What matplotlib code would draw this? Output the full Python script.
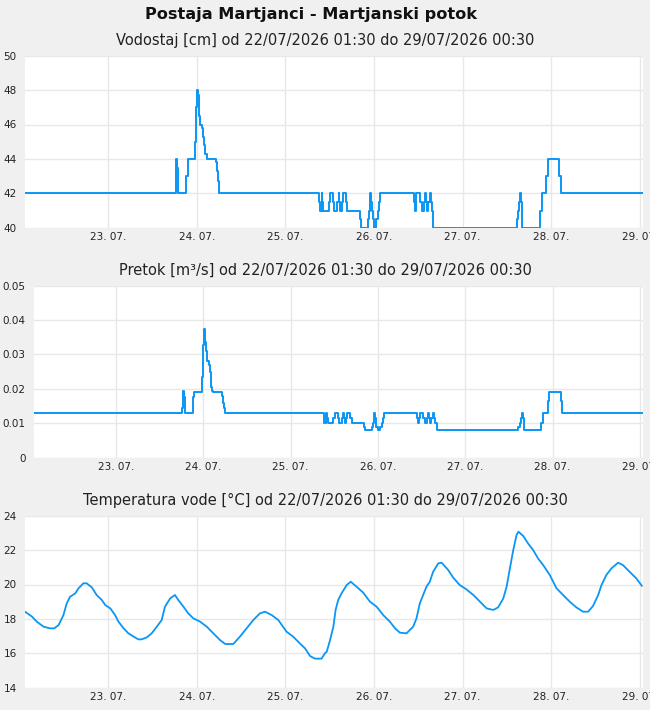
import numpy as np
import pandas as pd
import matplotlib
matplotlib.use("Agg")
import matplotlib.pyplot as plt
import matplotlib.dates as mdates

# ---------------- data ----------------
start_time = "2026-07-22 01:30"
end_time = "2026-07-29 00:30"

# water level (Vodostaj, cm): change points, hours since start
level_hours = [0, 40.8, 41.0, 41.2, 41.4, 41.5, 43.7, 44.0, 46.1, 46.4, 46.7, 46.9,
               47.0, 47.2, 47.4, 48.0, 48.3, 48.6, 48.8, 49.2, 51.6, 51.9, 52.2, 52.4,
               52.6, 79.6, 79.8, 80.3, 80.5, 80.8, 82.2, 82.7, 83.4, 83.7, 84.6, 84.9,
               85.1, 85.4, 85.7, 86.0, 86.9, 87.3, 90.6, 91.0, 92.8, 93.1, 93.3, 93.4,
               93.6, 93.9, 94.1, 94.5, 95.1, 95.5, 95.8, 96.1, 105.2, 105.6, 105.8, 106.0,
               107.0, 107.4, 108.0, 108.3, 108.6, 108.8, 109.0, 109.6, 110.0, 110.3, 110.6,
               133.1, 133.5, 133.7, 134.0, 134.3, 134.6, 139.4, 139.9, 141.2, 141.6, 144.7,
               145.2, 167.0]
level_values = [42, 43, 44, 43.5, 42.5, 42, 43, 44, 45, 47, 48, 47.7,
                47.3, 46.5, 46, 45.8, 45.3, 44.8, 44.3, 44, 43.8, 43.3, 42.7, 42.3,
                42, 41.5, 41, 42, 41.5, 41, 41.5, 42, 41.5, 41, 41.5, 42,
                41.5, 41, 41.5, 42, 41.5, 41, 40.5, 40, 40.5, 41, 41.5, 42,
                41.5, 41, 40.5, 40, 40.5, 41, 41.5, 42, 41.5, 41, 41.5, 42,
                41.5, 41, 41.5, 42, 41.5, 41, 41.5, 42, 41.5, 41, 40,
                40.5, 41, 41.5, 42, 41.5, 40, 41, 42, 43, 44, 43,
                42, 42]

# discharge (Pretok, m3/s) at the same change points
flow_values = [0.013, 0.0145, 0.0195, 0.0175, 0.0145, 0.013, 0.0175, 0.019, 0.0235, 0.0327, 0.0373, 0.036,
               0.0335, 0.031, 0.028, 0.027, 0.025, 0.0205, 0.0195, 0.019, 0.018, 0.016, 0.0145, 0.0135,
               0.013, 0.0115, 0.010, 0.013, 0.0115, 0.010, 0.0115, 0.013, 0.0115, 0.010, 0.0115, 0.013,
               0.0115, 0.010, 0.0115, 0.013, 0.0115, 0.010, 0.009, 0.008, 0.009, 0.010, 0.0115, 0.013,
               0.0115, 0.010, 0.009, 0.008, 0.009, 0.010, 0.0115, 0.013, 0.0115, 0.010, 0.0115, 0.013,
               0.0115, 0.010, 0.0115, 0.013, 0.0115, 0.010, 0.0115, 0.013, 0.0115, 0.010, 0.008,
               0.009, 0.010, 0.0115, 0.013, 0.0115, 0.008, 0.010, 0.013, 0.0165, 0.019, 0.0165,
               0.013, 0.013]

# water temperature (Temperatura vode, °C)
temp_hours = [0, 1.9, 3.2, 5.0, 6.8, 7.9, 9.1, 10.4, 11.3, 12.2, 13.6, 14.5, 15.8, 16.7,
              18.1, 19.4, 20.8, 21.7, 23.1, 24.4, 25.3, 26.7, 28.0, 29.4, 30.7, 31.6, 33.0,
              34.3, 35.7, 37.0, 37.9, 39.3, 40.6, 41.5, 42.9, 44.2, 45.6, 47.4, 49.2, 51.0,
              52.8, 54.2, 56.4, 58.2, 60.0, 61.8, 63.6, 65.0, 66.8, 68.6, 70.8, 72.6, 74.4,
              75.8, 77.2, 78.5, 80.3, 81.2, 81.7, 82.6, 83.5, 84.1, 84.8, 85.7, 87.1, 88.2,
              89.8, 91.6, 93.4, 95.2, 97.0, 98.8, 100.2, 101.5, 103.3, 105.1, 106.0, 106.9,
              107.8, 108.7, 109.6, 110.5, 111.9, 112.8, 114.6, 115.9, 117.7, 119.5, 121.4,
              123.2, 125.0, 126.8, 128.1, 129.5, 130.4, 131.3, 132.2, 133.1, 133.6, 134.9,
              136.2, 137.6, 138.9, 140.3, 142.1, 143.9, 145.7, 147.5, 149.3, 151.1, 152.5,
              153.8, 155.2, 156.1, 157.4, 158.8, 160.6, 161.9, 163.7, 165.5, 167.0]
temp_values = [18.42, 18.13, 17.84, 17.55, 17.45, 17.45, 17.64, 18.22, 18.9, 19.29, 19.48, 19.78,
               20.07, 20.07, 19.83, 19.39, 19.1, 18.81, 18.61, 18.22, 17.84, 17.45, 17.16, 16.97,
               16.81, 16.81, 16.93, 17.16, 17.55, 17.93, 18.71, 19.19, 19.39, 19.1, 18.71, 18.32,
               18.03, 17.84, 17.55, 17.16, 16.77, 16.54, 16.54, 16.97, 17.45, 17.93, 18.32, 18.42,
               18.22, 17.93, 17.26, 16.97, 16.58, 16.29, 15.84, 15.69, 15.69, 16.0, 16.09, 16.77,
               17.55, 18.52, 19.1, 19.48, 19.97, 20.16, 19.87, 19.52, 19.0, 18.71, 18.22, 17.84,
               17.45, 17.2, 17.16, 17.55, 18.03, 18.9, 19.39, 19.87, 20.16, 20.74, 21.23, 21.27,
               20.84, 20.41, 19.97, 19.72, 19.39, 19.0, 18.61, 18.52, 18.67, 19.19, 19.87, 20.94,
               22.0, 22.88, 23.07, 22.82, 22.39, 22.0, 21.52, 21.13, 20.55, 19.78, 19.39, 19.0,
               18.67, 18.42, 18.42, 18.75, 19.39, 19.97, 20.55, 20.94, 21.27, 21.13, 20.74,
               20.36, 19.93]

title = "Postaja Martjanci - Martjanski potok"
subtitles = ["Vodostaj [cm] od 22/07/2026 01:30 do 29/07/2026 00:30",
             "Pretok [m³/s] od 22/07/2026 01:30 do 29/07/2026 00:30",
             "Temperatura vode [°C] od 22/07/2026 01:30 do 29/07/2026 00:30"]
level_ticks = [40, 42, 44, 46, 48, 50]
level_ticklabels = ["40", "42", "44", "46", "48", "50"]
flow_ticks = [0, 0.01, 0.02, 0.03, 0.04, 0.05]
flow_ticklabels = ["0", "0.01", "0.02", "0.03", "0.04", "0.05"]
temp_ticks = [14, 16, 18, 20, 22, 24]
temp_ticklabels = ["14", "16", "18", "20", "22", "24"]

# ---------------- plotting ----------------
t0 = pd.Timestamp(start_time)
t1 = pd.Timestamp(end_time)
lt = t0 + pd.to_timedelta(level_hours, unit="h")
tt = t0 + pd.to_timedelta(temp_hours, unit="h")

W, H = 650, 710
fig = plt.figure(figsize=(W / 100, H / 100), dpi=100, facecolor="#f0f0f0")

def rect(l, r, top, bot):
    return [l / W, 1 - bot / H, (r - l) / W, (bot - top) / H]

line_col = "#0a96f5"
grid_col = "#e8e8e8"

panels = [
    (rect(25, 643, 55.7, 227.7), lt, level_values, "steps-post", (40, 50), level_ticks, level_ticklabels, 1.4),
    (rect(34, 643, 285.7, 457.7), lt, flow_values, "steps-post", (0, 0.05), flow_ticks, flow_ticklabels, 1.4),
    (rect(25, 643, 515.7, 687.7), tt, temp_values, "default", (14, 24), temp_ticks, temp_ticklabels, 1.3),
]

for pos, x, y, ds, ylim, yt, ytl, lw in panels:
    ax = fig.add_axes(pos)
    ax.set_facecolor("white")
    ax.plot(x, y, color=line_col, lw=lw, drawstyle=ds)
    ax.set_xlim(t0, t1 + pd.Timedelta(minutes=20))
    ax.set_ylim(*ylim)
    ax.set_yticks(yt)
    ax.set_yticklabels(ytl)
    ax.xaxis.set_major_locator(mdates.DayLocator())
    ax.xaxis.set_major_formatter(mdates.DateFormatter("%d. %m."))
    ax.grid(True, color=grid_col, lw=1)
    ax.set_axisbelow(True)
    for s in ax.spines.values():
        s.set_visible(False)
    ax.tick_params(axis="x", length=0, labelsize=7.5, colors="#222222", pad=3)
    ax.tick_params(axis="y", length=0, labelsize=7.5, colors="#222222", pad=6)

fig.text(311 / W, 1 - 14 / H, title, ha="center", va="center", fontsize=11.6,
         fontweight="bold", color="#111111")
for ypx, s in zip([40, 270, 500], subtitles):
    fig.text(0.5, 1 - ypx / H, s, ha="center", va="center", fontsize=10.5, color="#222222")

fig.savefig("out.png", dpi=100, facecolor=fig.get_facecolor())
